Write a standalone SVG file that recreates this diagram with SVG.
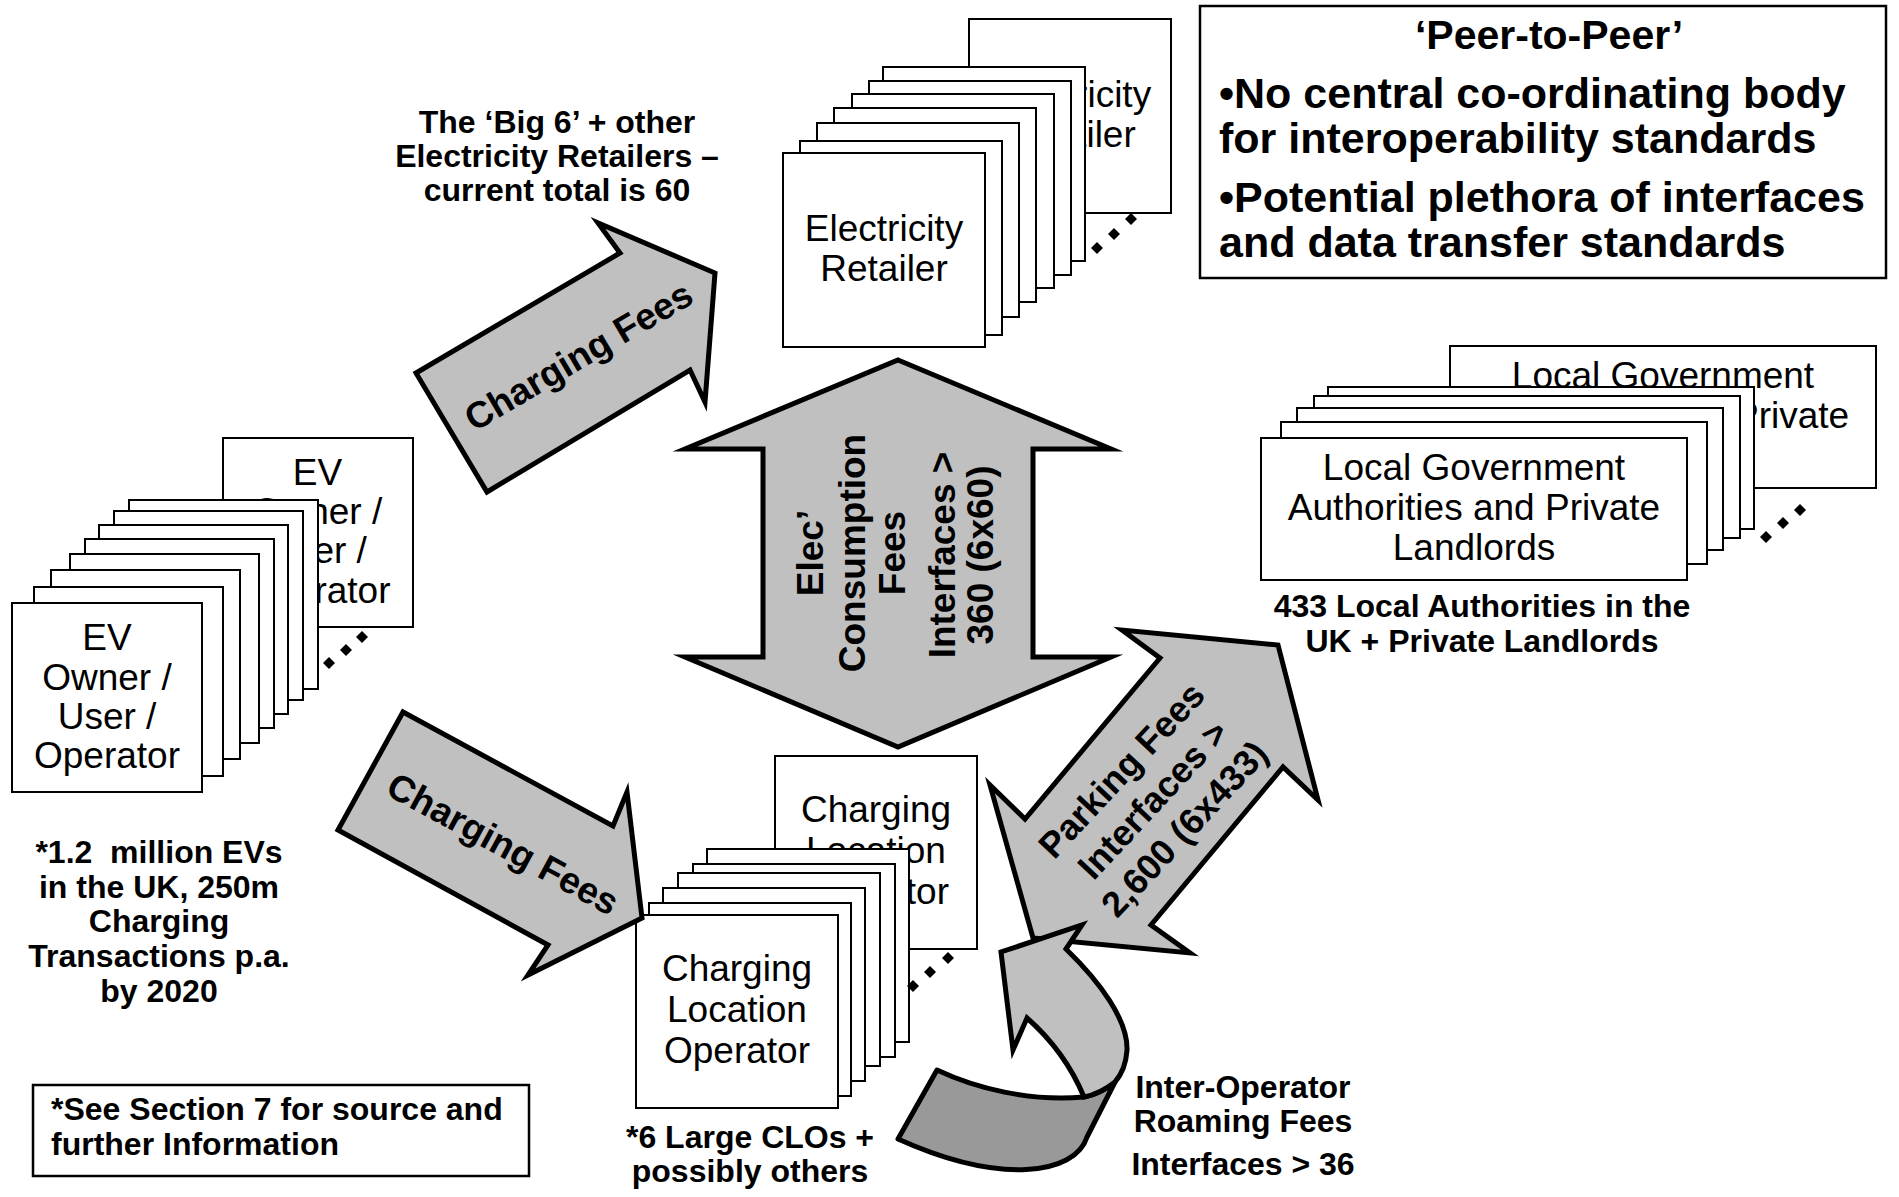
<svg xmlns="http://www.w3.org/2000/svg" width="1899" height="1197" viewBox="0 0 1899 1197">
<defs>
<style>
.box{fill:#fff;stroke:#000;stroke-width:2}
.frame{fill:#fff;stroke:#000;stroke-width:2.5}
.arw{fill:#c0c0c0;stroke:#000;stroke-width:5;stroke-linejoin:miter;stroke-miterlimit:10}
.arw-back{fill:#999;stroke:#000;stroke-width:5;stroke-linejoin:round}
text{font-family:"Liberation Sans",Arial,Helvetica,sans-serif;fill:#000}
.bt{font-size:37px;text-anchor:middle}
.lb{font-size:32px;font-weight:bold;text-anchor:middle}
.al{font-size:37px;font-weight:bold;text-anchor:middle}
.pt{font-size:41px;font-weight:bold;text-anchor:middle}
.pb{font-size:43px;font-weight:bold}
.dot{fill:#000}
</style>
<polygon id="dia" class="dot" points="0,-6 6,0 0,6 -6,0"/>
</defs>

<rect width="1899" height="1197" fill="#fff"/>

<!-- EV owners: stack of cards, rear card first -->
<g id="ev-owner">
<rect class="box" x="223" y="438" width="190" height="189"/>
<text class="bt"><tspan x="317.5" y="485">EV</tspan><tspan x="317.5" y="524">Owner /</tspan><tspan x="317.5" y="563">User /</tspan><tspan x="317.5" y="603">Operator</tspan></text>
<rect class="box" x="129" y="500" width="189" height="189"/>
<rect class="box" x="114" y="511" width="189" height="189"/>
<rect class="box" x="99" y="525" width="189" height="189"/>
<rect class="box" x="85" y="539" width="189" height="189"/>
<rect class="box" x="70" y="554" width="189" height="189"/>
<rect class="box" x="51" y="570" width="189" height="189"/>
<rect class="box" x="34" y="587" width="189" height="189"/>
<rect class="box" x="12" y="603" width="190" height="189"/>
<text class="bt"><tspan x="107" y="650">EV</tspan><tspan x="107" y="690">Owner /</tspan><tspan x="107" y="729">User /</tspan><tspan x="107" y="768">Operator</tspan></text>
<use href="#dia" x="329" y="663"/>
<use href="#dia" x="346" y="650"/>
<use href="#dia" x="362" y="637"/>
</g>

<!-- Electricity retailers -->
<g id="electricity-retailer">
<rect class="box" x="969" y="19" width="202" height="194"/>
<text class="bt"><tspan x="1072" y="107">Electricity</tspan><tspan x="1072" y="147">Retailer</tspan></text>
<rect class="box" x="883" y="67" width="202" height="194"/>
<rect class="box" x="869" y="81" width="202" height="194"/>
<rect class="box" x="852" y="94" width="202" height="194"/>
<rect class="box" x="834" y="108" width="202" height="194"/>
<rect class="box" x="817" y="123" width="202" height="194"/>
<rect class="box" x="800" y="141" width="202" height="194"/>
<rect class="box" x="783" y="153" width="202" height="194"/>
<text class="bt"><tspan x="884" y="241">Electricity</tspan><tspan x="884" y="281">Retailer</tspan></text>
<use href="#dia" x="1097" y="248"/>
<use href="#dia" x="1114" y="234"/>
<use href="#dia" x="1131" y="219"/>
</g>

<!-- Local government authorities and private landlords -->
<g id="local-authority">
<rect class="box" x="1450" y="346" width="426" height="142"/>
<!-- rear card: only its first two lines show above the cards in front -->
<text class="bt"><tspan x="1663" y="388">Local Government</tspan><tspan x="1663" y="428">Authorities and Private</tspan></text>
<rect class="box" x="1328" y="387" width="426" height="142"/>
<rect class="box" x="1314" y="396" width="426" height="142"/>
<rect class="box" x="1297" y="408" width="426" height="142"/>
<rect class="box" x="1281" y="422" width="426" height="142"/>
<rect class="box" x="1261" y="438" width="426" height="142"/>
<text class="bt"><tspan x="1474" y="480">Local Government</tspan><tspan x="1474" y="520">Authorities and Private</tspan><tspan x="1474" y="560">Landlords</tspan></text>
<use href="#dia" x="1766" y="537"/>
<use href="#dia" x="1783" y="523"/>
<use href="#dia" x="1800" y="510"/>
</g>

<!-- Charging location operators -->
<g id="charging-location-operator">
<rect class="box" x="775" y="756" width="202" height="193"/>
<text class="bt"><tspan x="876" y="822">Charging</tspan><tspan x="876" y="863">Location</tspan><tspan x="876" y="904">Operator</tspan></text>
<rect class="box" x="707" y="849" width="202" height="193"/>
<rect class="box" x="693" y="864" width="202" height="193"/>
<rect class="box" x="678" y="873" width="202" height="193"/>
<rect class="box" x="663" y="888" width="202" height="193"/>
<rect class="box" x="649" y="903" width="202" height="193"/>
<rect class="box" x="636" y="915" width="202" height="193"/>
<text class="bt"><tspan x="737" y="981">Charging</tspan><tspan x="737" y="1022">Location</tspan><tspan x="737" y="1063">Operator</tspan></text>
<use href="#dia" x="913" y="986"/>
<use href="#dia" x="930" y="972"/>
<use href="#dia" x="948" y="958"/>
</g>

<!-- Peer-to-peer summary panel -->
<g id="peer-to-peer">
<rect class="frame" x="1200" y="6" width="686" height="272"/>
<text class="pt" x="1549" y="49">‘Peer-to-Peer’</text>
<text class="pb"><tspan x="1219" y="108">•No central co-ordinating body</tspan><tspan x="1219" y="153">for interoperability standards</tspan><tspan x="1219" y="212">•Potential plethora of interfaces</tspan><tspan x="1219" y="257">and data transfer standards</tspan></text>
</g>

<!-- Annotations -->
<g id="retailer-note">
<text class="lb"><tspan x="557" y="133">The ‘Big 6’ + other</tspan><tspan x="557" y="167">Electricity Retailers –</tspan><tspan x="557" y="201">current total is 60</tspan></text>
</g>
<g id="authority-note">
<text class="lb"><tspan x="1482" y="617">433 Local Authorities in the</tspan><tspan x="1482" y="652">UK + Private Landlords</tspan></text>
</g>
<g id="ev-note">
<text class="lb" xml:space="preserve"><tspan x="159" y="863">*1.2  million EVs</tspan><tspan x="159" y="898">in the UK, 250m</tspan><tspan x="159" y="932">Charging</tspan><tspan x="159" y="967">Transactions p.a.</tspan><tspan x="159" y="1002">by 2020</tspan></text>
</g>
<g id="clo-note">
<text class="lb"><tspan x="750" y="1148">*6 Large CLOs +</tspan><tspan x="750" y="1182">possibly others</tspan></text>
</g>
<g id="source-note">
<rect class="frame" x="33" y="1085" width="496" height="91"/>
<text class="lb" style="text-anchor:start"><tspan x="51" y="1120">*See Section 7 for source and</tspan><tspan x="51" y="1155">further Information</tspan></text>
</g>
<g id="roaming-note">
<text class="lb"><tspan x="1243" y="1098">Inter-Operator</tspan><tspan x="1243" y="1132">Roaming Fees</tspan><tspan x="1243" y="1175">Interfaces &gt; 36</tspan></text>
</g>

<!-- Flows between the parties -->
<g id="connectors">
<g id="fees-ev-to-retailer">
<polygon class="arw" points="416,373 620,253 598,223 715,273 705,402 690,370 487,492"/>
<text class="al" transform="translate(585,367) rotate(-30.5)">Charging Fees</text>
</g>
<g id="fees-ev-to-clo">
<polygon class="arw" points="403,712 613,826 627,792 642,918 528,975 548,945 338,830"/>
<text class="al" transform="translate(497,855) rotate(28.5)">Charging Fees</text>
</g>
<g id="consumption-fees">
<polygon class="arw" points="898,360 1111,449 1033,449 1033,657 1111,657 898,747 685,657 763,657 763,449 685,449"/>
<text class="al" transform="translate(823,553) rotate(-90)"><tspan x="0" y="0">Elec’</tspan><tspan x="0" y="42">Consumption</tspan><tspan x="0" y="82">Fees</tspan></text>
<text class="al" transform="translate(955,555) rotate(-90)"><tspan x="0" y="0">Interfaces &gt;</tspan><tspan x="0" y="38">360 (6x60)</tspan></text>
</g>
<g id="parking-fees">
<polygon class="arw" points="1160,658 1122,630 1278,645 1318,800 1283,767 1151,925 1190,953 1033,938 990,785 1025,819"/>
<text class="al" style="font-size:36px" transform="translate(1162,808) rotate(-47)"><tspan x="0" y="-43">Parking Fees</tspan><tspan x="0" y="0">Interfaces &gt;</tspan><tspan x="0" y="43">2,600 (6x433)</tspan></text>
</g>
<g id="roaming-fees">
<path class="arw-back" d="M937,1070 C975,1088 1030,1102 1084,1097 Q1100,1094 1115,1082 L1087,1137 C1075,1175 1000,1185 898,1139 Z"/>
<path class="arw" d="M1084,1097 C1072,1068 1052,1040 1027,1018 L1013,1050 L1001,952 L1082,925 L1066,949 C1100,982 1128,1020 1127,1050 C1126,1066 1121,1075 1115,1082 Q1100,1094 1084,1097 Z"/>
</g>
</g>
</svg>
